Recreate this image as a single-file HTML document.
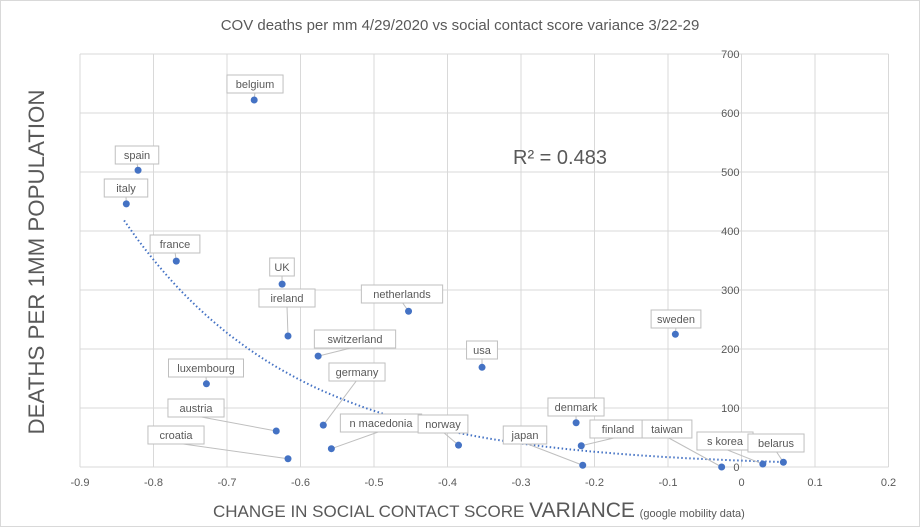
<!DOCTYPE html>
<html><head><meta charset="utf-8"><style>
html,body{margin:0;padding:0;background:#fff;}
svg{display:block;font-family:"Liberation Sans",sans-serif;}
</style></head><body>
<svg id="chart" width="920" height="527">
<rect x="0.5" y="0.5" width="919" height="526" fill="#fff" stroke="#d9d9d9"/>
<text x="460" y="30" text-anchor="middle" font-size="15" fill="#595959">COV deaths per mm  4/29/2020 vs social contact score variance 3/22-29</text>
<g id="grid"></g><g id="trend"></g><g id="labels"></g><g id="points"></g><g id="ticks"></g>
<text x="560" y="164" text-anchor="middle" font-size="20" fill="#595959">R² = 0.483</text>
<text transform="translate(44,262) rotate(-90)" text-anchor="middle" font-size="22" fill="#595959" textLength="345" lengthAdjust="spacingAndGlyphs">DEATHS PER 1MM POPULATION</text>
<text x="213" y="517" font-size="17" fill="#595959">CHANGE IN SOCIAL CONTACT SCORE <tspan font-size="21">VARIANCE</tspan> <tspan font-size="11">(google mobility data)</tspan></text>
</svg>
<script>
const names=["belgium","spain","italy","france","UK","ireland","netherlands","switzerland","usa","sweden","luxembourg","germany","austria","denmark","n macedonia","norway","finland","croatia","japan","taiwan","s korea","belarus"];
const xVals=[-0.663,-0.821,-0.837,-0.769,-0.625,-0.617,-0.453,-0.576,-0.353,-0.090,-0.728,-0.569,-0.633,-0.225,-0.558,-0.385,-0.218,-0.617,-0.216,-0.027,0.029,0.057];
const yVals=[622,503,446,349,310,222,264,188,169,225,141,71,61,75,31,37,36,14,3,0,5,8];
const xTicks=[-0.9,-0.8,-0.7,-0.6,-0.5,-0.4,-0.3,-0.2,-0.1,0,0.1,0.2];
const yTicks=[0,100,200,300,400,500,600,700];
const trendA=418, trendK=4.35, trendX0=-0.84, trendX1=0.06;
const labelPos=[[255,84],[137,155],[126,188],[175,244],[282,267],[287,298],[402,294],[355,339],[482,350],[676,319],[206,368],[357,372],[196,408],[576,407],[381,423],[443,424],[618,429],[176,435],[525,435],[667,429],[725,441],[776,443]];
const X=v=>153.5+(v+0.8)*735, Y=v=>467-v*0.59;
const NS="http://www.w3.org/2000/svg";
function mk(t,a,p){const e=document.createElementNS(NS,t);for(const k in a)e.setAttribute(k,a[k]);p.appendChild(e);return e;}
const grid=document.getElementById('grid'),ticks=document.getElementById('ticks');
xTicks.forEach(t=>{const l=mk('line',{x1:X(t),x2:X(t),y1:Y(700),y2:Y(0),stroke:'#d9d9d9'},grid);


const tx=mk('text',{x:X(t),y:486,'text-anchor':'middle','font-size':11,fill:'#595959'},ticks);tx.textContent=(t===0?'0':String(t));

});
yTicks.forEach(t=>{const l=mk('line',{x1:X(-0.9),x2:X(0.2),y1:Y(t),y2:Y(t),stroke:'#d9d9d9'},grid);


const tx=mk('text',{x:X(0)-2,y:Y(t)+4,'text-anchor':'end','font-size':11,fill:'#595959'},ticks);tx.textContent=t;

});
let d='';for(let i=0;i<=100;i++){const x=trendX0+(trendX1-trendX0)*i/100;const y=trendA*Math.exp(-trendK*(x-trendX0));d+=(i?'L':'M')+X(x).toFixed(1)+','+Y(y).toFixed(1);}
const tr=mk('path',{d:d,fill:'none',stroke:'#4472c4','stroke-width':2,'stroke-dasharray':'1.5 2.5'},document.getElementById('trend'));


const lg=document.getElementById('labels'),pg=document.getElementById('points');
names.forEach((n,i)=>{const px=X(xVals[i]),py=Y(yVals[i]);const [lx,ly]=labelPos[i];
const ll=mk('line',{x1:lx,y1:ly+8,x2:px,y2:py,stroke:'#bfbfbf'},lg);


const w=n.length*6.3+12;
const r=mk('rect',{x:lx-w/2,y:ly-9,width:w,height:18,fill:'#fff',stroke:'#bfbfbf'},lg);


const t=mk('text',{x:lx,y:ly+4,'text-anchor':'middle','font-size':11,fill:'#595959'},lg);t.textContent=n;


const c=mk('circle',{cx:px,cy:py,r:3.5,fill:'#4472c4'},pg);

});
</script>
</body></html>
